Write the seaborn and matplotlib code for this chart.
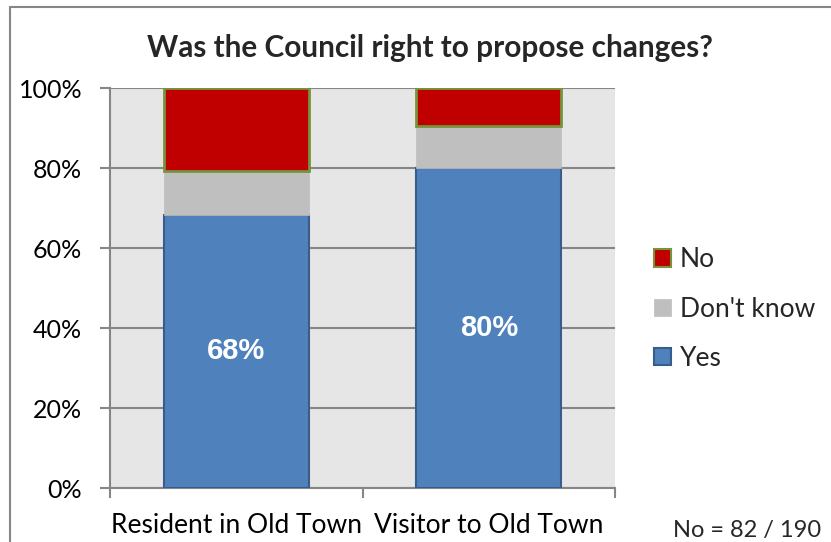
import matplotlib
matplotlib.use("Agg")
import matplotlib.pyplot as plt
from matplotlib.patches import Patch
from matplotlib.lines import Line2D
from matplotlib.ticker import MultipleLocator, FixedLocator
import seaborn as sns
import pandas as pd

# Survey responses (% of respondents in each group)
groups = ["Resident in Old Town", "Visitor to Old Town"]
yes = [68.3, 80.0]
dont_know = [11.0, 10.5]
no = [20.7, 9.5]
yes_labels = ["68%", "80%"]
title = "Was the Council right to propose changes?"
note = "No = 82 / 190"

sns.set_theme(style="white")
plt.rcParams["font.family"] = ["Lato", "DejaVu Sans"]

BLUE, BLUE_EDGE = "#4F81BD", "#385D8A"
GREY = "#BFBFBF"
RED, RED_EDGE = "#C00000", "#77933C"
AXIS = "#868686"

df = pd.DataFrame({"group": groups, "Yes": yes, "Don't know": dont_know, "No": no})
df["dk_base"] = df["Yes"]
df["no_base"] = df["Yes"] + df["Don't know"]

fig = plt.figure(figsize=(8.31, 5.42), dpi=100)
ax = fig.add_axes([110 / 831, 54 / 542, 505 / 831, 400 / 542])
ax.set_facecolor("#E6E6E6")

bw = 0.574
sns.barplot(data=df, x="group", y="Yes", color=BLUE, width=bw, ax=ax,
            edgecolor=BLUE_EDGE, linewidth=1.5, saturation=1, zorder=3)
sns.barplot(data=df, x="group", y="Don't know", bottom=df["dk_base"], color=GREY,
            width=bw, ax=ax, edgecolor=GREY, linewidth=0.5, saturation=1, zorder=3)
sns.barplot(data=df, x="group", y="No", bottom=df["no_base"], color=RED, width=bw,
            ax=ax, edgecolor=RED_EDGE, linewidth=2, saturation=1, zorder=3)

for i, (v, lab) in enumerate(zip(yes, yes_labels)):
    ax.text(i, v / 2, lab, color="white", ha="center", va="center",
            fontsize=21, fontweight="bold", family="Liberation Sans", zorder=4)

ax.set_xlim(-0.5, 1.5)
ax.set_ylim(0, 100)
ax.yaxis.set_major_locator(MultipleLocator(20))
ax.set_yticklabels([f"{int(t)}%" for t in ax.get_yticks()])
ax.grid(axis="y", color=AXIS, linewidth=1.5, zorder=0)
ax.set_axisbelow(True)
ax.set_xlabel("")
ax.set_ylabel("")

for s in ["top", "right"]:
    ax.spines[s].set_visible(False)
for s in ["left", "bottom"]:
    ax.spines[s].set_color(AXIS)
    ax.spines[s].set_linewidth(1.5)

ax.tick_params(axis="y", length=7, width=1.5, color=AXIS, labelsize=18,
               labelcolor="black", pad=13, left=True)
ax.tick_params(axis="x", which="major", length=0, labelsize=19,
               labelcolor="black", pad=18)
ax.xaxis.set_minor_locator(FixedLocator([-0.5, 0.5, 1.5]))
ax.tick_params(axis="x", which="minor", length=7, width=1.5, color=AXIS, bottom=True)

fig.text(430 / 831, 1 - 48 / 542, title, ha="center", va="center",
         fontsize=21.4, fontweight="bold")
fig.text(747 / 831, 1 - 530 / 542, note, ha="center", va="center", fontsize=17)

handles = [
    Patch(facecolor=RED, edgecolor=RED_EDGE, linewidth=1.5, label="No"),
    Patch(facecolor=GREY, edgecolor=GREY, linewidth=0.5, label="Don't know"),
    Patch(facecolor=BLUE, edgecolor=BLUE_EDGE, linewidth=1.5, label="Yes"),
]
fig.legend(handles=handles, loc="center left", bbox_to_anchor=(654 / 831, 1 - 309 / 542),
           frameon=False, fontsize=19, handlelength=0.63, handleheight=0.63,
           handletextpad=0.34, labelspacing=0.92, borderpad=0, borderaxespad=0)

# chart frame
fig.add_artist(Line2D([10 / 831, 10 / 831], [0, 1 - 7 / 542], color=AXIS, linewidth=1.5,
                      transform=fig.transFigure))
fig.add_artist(Line2D([10 / 831, 1], [1 - 7 / 542, 1 - 7 / 542], color=AXIS, linewidth=1.5,
                      transform=fig.transFigure))

fig.savefig("out.png", dpi=100, facecolor="white")
